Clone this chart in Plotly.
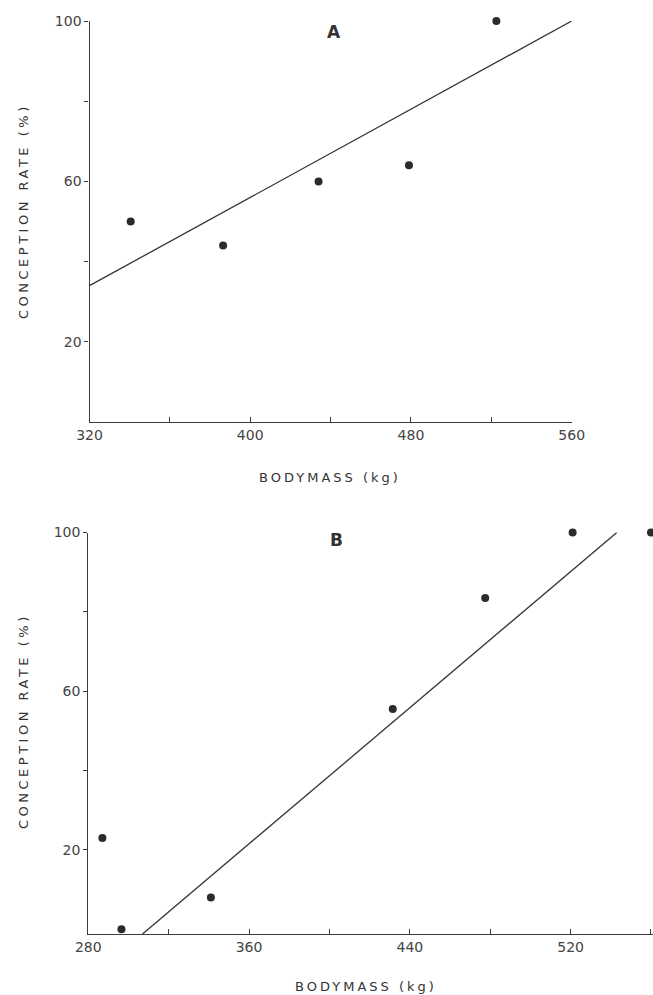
import plotly.graph_objects as go

# Panel A: bodymass (kg) vs conception rate (%)
mass_a = [340.5, 386.5, 434, 479, 522.5]
rate_a = [50, 44, 60, 64, 100]
fit_a_x = [320, 560]
fit_a_y = [34, 100]

# Panel B
mass_b = [287, 296.5, 341, 431.5, 477.5, 521, 560]
rate_b = [23, 0, 8, 55.5, 83.5, 100, 100]
fit_b_x = [307, 543]
fit_b_y = [-1.2, 100]

y_ticks = [20, 40, 60, 80, 100]
y_labels = ["20", "", "60", "", "100"]
xa_ticks = [320, 360, 400, 440, 480, 520, 560]
xa_labels = ["320", "", "400", "", "480", "", "560"]
xb_ticks = [280, 320, 360, 400, 440, 480, 520, 560]
xb_labels = ["280", "", "360", "", "440", "", "520", ""]

W, H = 653, 995
INK = "#2b2b2b"
AXIS = "#3c3c3c"
FONT = "DejaVu Sans"

fig = go.Figure()

for xs, ys, fx, fy, xa, ya in [
    (mass_a, rate_a, fit_a_x, fit_a_y, "x", "y"),
    (mass_b, rate_b, fit_b_x, fit_b_y, "x2", "y2"),
]:
    fig.add_trace(go.Scatter(x=fx, y=fy, mode="lines", xaxis=xa, yaxis=ya,
                             line=dict(color="#333333", width=1.3),
                             showlegend=False, hoverinfo="skip"))
    fig.add_trace(go.Scatter(x=xs, y=ys, mode="markers", xaxis=xa, yaxis=ya,
                             marker=dict(color=INK, size=8),
                             cliponaxis=False, showlegend=False))

def px_x(p):
    return p / W

def px_y(p):
    return 1 - p / H

common_x = dict(showgrid=False, zeroline=False, showline=True, linecolor=AXIS,
                linewidth=1.2, ticks="inside", ticklen=5, tickcolor=AXIS,
                tickwidth=1.2, automargin=False,
                tickfont=dict(family=FONT, size=14, color="#444444"))
common_y = dict(showgrid=False, zeroline=False, showline=True, linecolor=AXIS,
                linewidth=1.2, ticks="outside", ticklen=4, tickcolor=AXIS,
                tickwidth=1.2, automargin=False,
                tickfont=dict(family=FONT, size=14, color="#444444"),
                tickmode="array", tickvals=y_ticks, ticktext=y_labels)

fig.update_layout(
    template="none",
    width=W, height=H,
    margin=dict(l=0, r=0, t=0, b=0, pad=0),
    paper_bgcolor="white", plot_bgcolor="white",
    showlegend=False,
    xaxis=dict(common_x, domain=[px_x(89.5), px_x(571.7)], range=[320, 560],
               tickmode="array", tickvals=xa_ticks, ticktext=xa_labels,
               anchor="y"),
    yaxis=dict(common_y, domain=[px_y(422), px_y(21)], range=[0, 100],
               anchor="x"),
    xaxis2=dict(common_x, domain=[px_x(88.3), 1.0], range=[280, 561],
                tickmode="array", tickvals=xb_ticks, ticktext=xb_labels,
                anchor="y2"),
    yaxis2=dict(common_y, domain=[px_y(934), px_y(532.5)], range=[-1.2, 100],
                anchor="x2"),
)

def spaced(text, gap):
    return f'<span style="letter-spacing:{gap}px">{text}</span>'

notes = [
    ("A", 334, 32, 0, 17, True, 0),
    ("B", 336, 540, 0, 17, True, 0),
    ("BODYMASS (kg)", 330, 477, 0, 13, False, 3),
    ("BODYMASS (kg)", 366, 986, 0, 13, False, 3),
    ("CONCEPTION RATE (%)", 23, 211, -90, 13, False, 3.5),
    ("CONCEPTION RATE (%)", 23, 721, -90, 13, False, 3.5),
]
for text, x, y, ang, size, bold, gap in notes:
    label = f"<b>{text}</b>" if bold else spaced(text, gap)
    fig.add_annotation(text=label, x=px_x(x), y=px_y(y), xref="paper", yref="paper",
                       showarrow=False, textangle=ang, xanchor="center", yanchor="middle",
                       font=dict(family=FONT, size=size, color="#333333"))

fig.write_html("out.html", post_script="document.body.style.margin='0';")
